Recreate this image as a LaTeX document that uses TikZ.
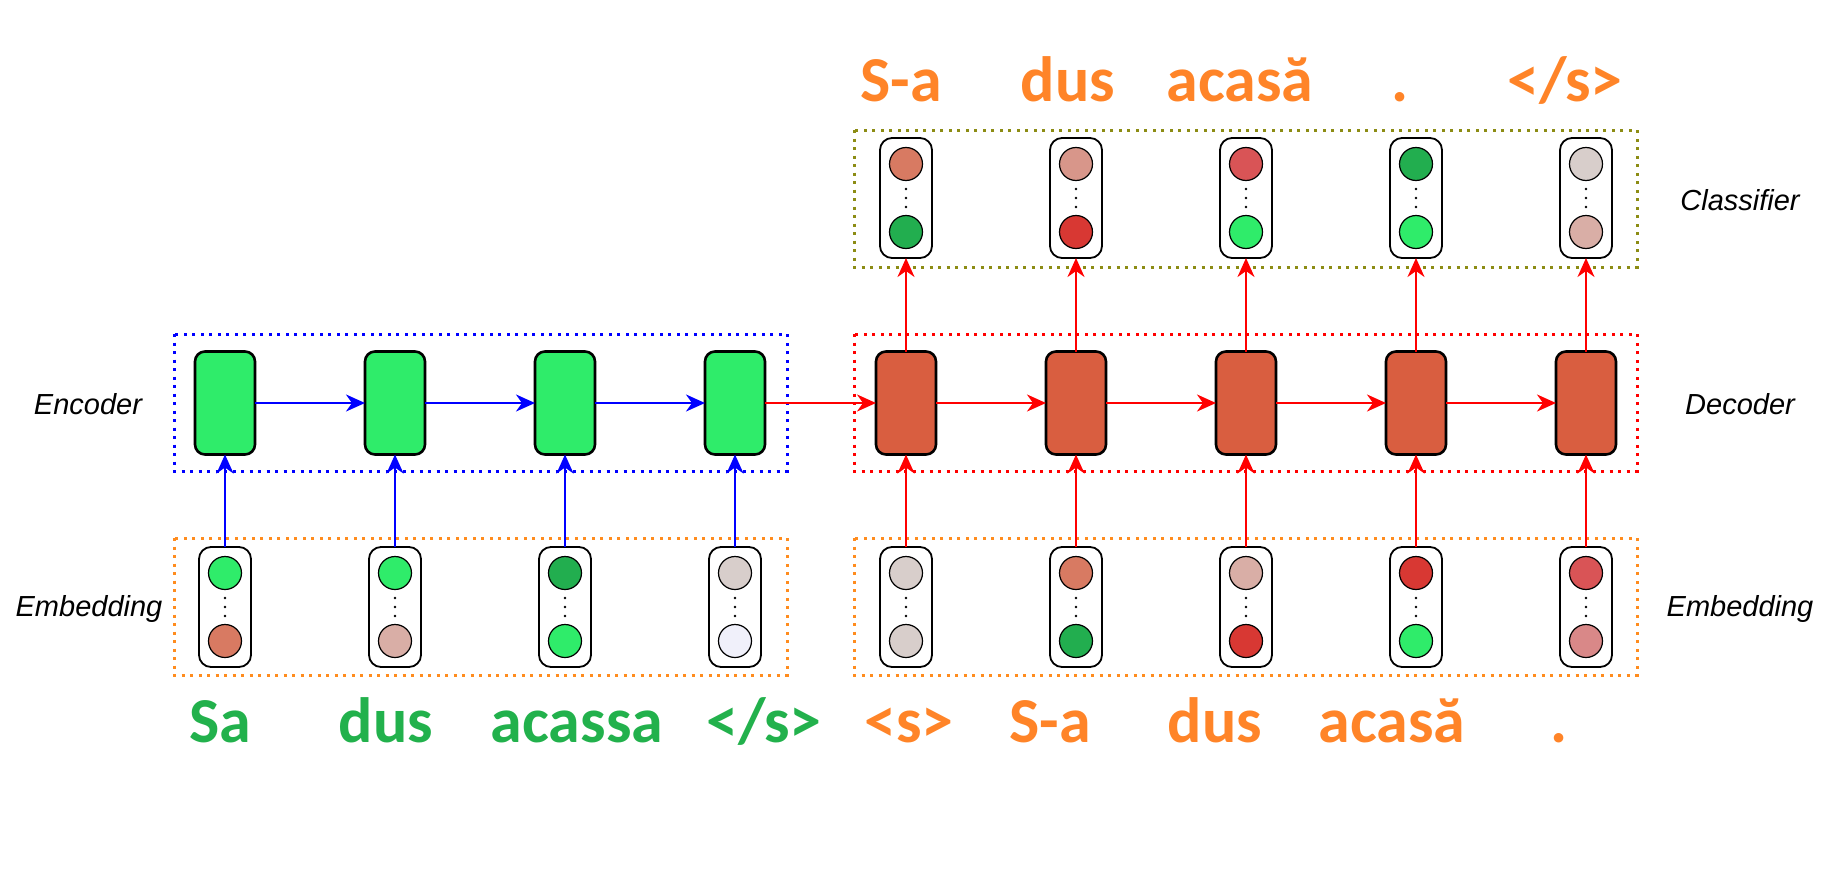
\documentclass[tikz,border=0pt]{standalone}
\usepackage{fontspec}
\newfontfamily\wordfont{Carlito}
\newfontfamily\labelfont{Liberation Sans}
\usepackage{xcolor}
\usetikzlibrary{arrows.meta}
\definecolor{cellgreen}{RGB}{47,236,106}
\definecolor{cellred}{RGB}{217,94,64}
\definecolor{vgreen}{RGB}{47,236,106}
\definecolor{vdkgreen}{RGB}{34,174,79}
\definecolor{vsalmon}{RGB}{216,122,98}
\definecolor{vlsalmon}{RGB}{216,150,138}
\definecolor{vpink}{RGB}{217,174,166}
\definecolor{vgrey}{RGB}{216,206,203}
\definecolor{vpale}{RGB}{240,240,250}
\definecolor{vred}{RGB}{216,56,51}
\definecolor{vrose}{RGB}{217,84,86}
\definecolor{vlrose}{RGB}{217,136,136}
\definecolor{wgreen}{RGB}{34,177,76}
\definecolor{worange}{RGB}{255,132,40}
\definecolor{frameorange}{RGB}{255,140,30}
\definecolor{frameolive}{RGB}{140,140,20}
\tikzset{
  cell/.style={draw, rounded corners=10pt, line width=2.6pt,
    minimum width=60pt, minimum height=103pt, inner sep=0pt, outer sep=0pt},
  vecbox/.style={draw, rounded corners=12pt, line width=1.8pt,
    minimum width=52pt, minimum height=120pt, inner sep=0pt, outer sep=0pt},
  vunit/.style={draw, circle, line width=1.2pt, minimum size=33pt, inner sep=0pt},
  grpbox/.style={line width=3pt, dash pattern=on 3pt off 5.5pt},
  flow/.style={line width=2.2pt, -{Stealth[length=19pt, width=17pt, inset=6pt]}},
  encflow/.style={flow, blue},
  decflow/.style={flow, red},
  word/.style={anchor=base, font=\wordfont\bfseries\fontsize{64}{72}\selectfont},
  sidelabel/.style={anchor=base, font=\labelfont\itshape\fontsize{29}{34}\selectfont}
}

\begin{document}
\begin{tikzpicture}[x=1pt, y=-1pt]
\useasboundingbox (0,0) rectangle (1837,875);
\newcommand\YCls{198}
\newcommand\YCell{403}
\newcommand\YEmb{607}
\newcommand\WordVec[5]{%
  \node[vecbox] (#1) at (#2,#3) {};
  \node[vunit, fill=#4] (#1t) at (#2,#3-34) {};
  \node[vunit, fill=#5] (#1b) at (#2,#3+34) {};
  \fill (#2,#3-9) circle (1.3pt) (#2,#3) circle (1.3pt) (#2,#3+9) circle (1.3pt);
}

\draw[grpbox, blue] (174,334) rectangle (787,471);
\draw[grpbox, red] (854,334) rectangle (1637,471);
\draw[grpbox, frameorange] (174,538) rectangle (787,675);
\draw[grpbox, frameorange] (854,538) rectangle (1637,675);
\draw[grpbox, frameolive] (854,130) rectangle (1637,267);

\node[cell, fill=cellgreen] (H1) at (225,\YCell) {};
\node[cell, fill=cellgreen] (H2) at (395,\YCell) {};
\node[cell, fill=cellgreen] (H3) at (565,\YCell) {};
\node[cell, fill=cellgreen] (H4) at (735,\YCell) {};
\node[cell, fill=cellred] (S1) at (906,\YCell) {};
\node[cell, fill=cellred] (S2) at (1076,\YCell) {};
\node[cell, fill=cellred] (S3) at (1246,\YCell) {};
\node[cell, fill=cellred] (S4) at (1416,\YCell) {};
\node[cell, fill=cellred] (S5) at (1586,\YCell) {};

\WordVec{X1}{225}{\YEmb}{vgreen}{vsalmon}
\WordVec{X2}{395}{\YEmb}{vgreen}{vpink}
\WordVec{X3}{565}{\YEmb}{vdkgreen}{vgreen}
\WordVec{X4}{735}{\YEmb}{vgrey}{vpale}
\WordVec{Y1}{906}{\YEmb}{vgrey}{vgrey}
\WordVec{Y2}{1076}{\YEmb}{vsalmon}{vdkgreen}
\WordVec{Y3}{1246}{\YEmb}{vpink}{vred}
\WordVec{Y4}{1416}{\YEmb}{vred}{vgreen}
\WordVec{Y5}{1586}{\YEmb}{vrose}{vlrose}

\WordVec{P1}{906}{\YCls}{vsalmon}{vdkgreen}
\WordVec{P2}{1076}{\YCls}{vlsalmon}{vred}
\WordVec{P3}{1246}{\YCls}{vrose}{vgreen}
\WordVec{P4}{1416}{\YCls}{vdkgreen}{vgreen}
\WordVec{P5}{1586}{\YCls}{vgrey}{vpink}

\node[sidelabel] (encl) at (88,414) {Encoder};
\node[sidelabel] (embl) at (89,616) {Embedding};
\node[sidelabel] (clsl) at (1740,210) {Classifier};
\node[sidelabel] (decl) at (1740,414) {Decoder};
\node[sidelabel] (embr) at (1740,616) {Embedding};

\node[word, text=worange] (o1) at (901,102) {S-a};
\node[word, text=worange] (o2) at (1068,102) {dus};
\node[word, text=worange] (o3) at (1240,102) {acasă};
\node[word, text=worange] (o4) at (1400,102) {.};
\node[word, text=worange] (o5) at (1565,102) {</s>};

\node[word, text=wgreen] (s1) at (220,742) {Sa};
\node[word, text=wgreen] (s2) at (386,742) {dus};
\node[word, text=wgreen] (s3) at (577,742) {acassa};
\node[word, text=wgreen] (s4) at (764,742) {</s>};
\node[word, text=worange] (t1) at (909,742) {<s>};
\node[word, text=worange] (t2) at (1050,742) {S-a};
\node[word, text=worange] (t3) at (1215,742) {dus};
\node[word, text=worange] (t4) at (1392,742) {acasă};
\node[word, text=worange] (t5) at (1559,742) {.};

\path (H1) edge[encflow] (H2)
      (H2) edge[encflow] (H3)
      (H3) edge[encflow] (H4)
      (H4) edge[decflow] (S1)
      (S1) edge[decflow] (S2)
      (S2) edge[decflow] (S3)
      (S3) edge[decflow] (S4)
      (S4) edge[decflow] (S5);

\path (X1) edge[encflow] (H1)
      (X2) edge[encflow] (H2)
      (X3) edge[encflow] (H3)
      (X4) edge[encflow] (H4)
      (Y1) edge[decflow] (S1)
      (Y2) edge[decflow] (S2)
      (Y3) edge[decflow] (S3)
      (Y4) edge[decflow] (S4)
      (Y5) edge[decflow] (S5);

\path (S1) edge[decflow] (P1)
      (S2) edge[decflow] (P2)
      (S3) edge[decflow] (P3)
      (S4) edge[decflow] (P4)
      (S5) edge[decflow] (P5);
\end{tikzpicture}
\end{document}
